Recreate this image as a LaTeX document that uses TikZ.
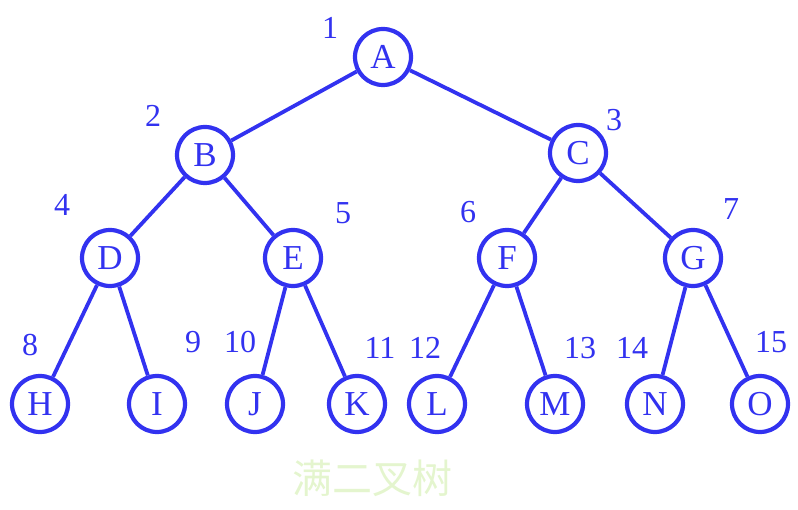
\documentclass[tikz,border=0pt]{standalone}
\usepackage{fontspec}
\setmainfont{Liberation Serif}
\newfontfamily\cjk{Noto Sans CJK SC}
\definecolor{tb}{RGB}{50,50,240}
\definecolor{cap}{RGB}{228,245,206}
\begin{document}
\begin{tikzpicture}[x=1pt,y=-1pt,
  tn/.style={circle,draw=tb,line width=4.2pt,minimum size=56pt,inner sep=0pt,text=tb,font=\fontsize{35}{35}\selectfont},
  num/.style={text=tb,font=\fontsize{32}{32}\selectfont,inner sep=0pt},
  ed/.style={draw=tb,line width=3.8pt}]
\useasboundingbox (0,0) rectangle (798,510);
\node[tn] (A) at (383,57) {A};
\node[tn] (B) at (205,155) {B};
\node[tn] (C) at (578,153) {C};
\node[tn] (D) at (110,258) {D};
\node[tn] (E) at (293,258) {E};
\node[tn] (F) at (507,258) {F};
\node[tn] (G) at (693,258) {G};
\node[tn] (H) at (40,404) {H};
\node[tn] (I) at (157,404) {I};
\node[tn] (J) at (255,404) {J};
\node[tn] (K) at (357,404) {K};
\node[tn] (L) at (437,404) {L};
\node[tn] (M) at (555,404) {M};
\node[tn] (N) at (655,404) {N};
\node[tn] (O) at (760,404) {O};
\foreach \a/\b in {A/B,A/C,B/D,B/E,C/F,C/G,D/H,D/I,E/J,E/K,F/L,F/M,G/N,G/O}
  \draw[ed] (\a) -- (\b);
\node[num] (n1) at (330,28) {1};
\node[num] (n2) at (153,116) {2};
\node[num] (n3) at (614,120) {3};
\node[num] (n4) at (62,205) {4};
\node[num] (n5) at (343,213) {5};
\node[num] (n6) at (468,212) {6};
\node[num] (n7) at (731,209) {7};
\node[num] (n8) at (30,345) {8};
\node[num] (n9) at (193,342) {9};
\node[num] (n10) at (240,342) {10};
\node[num] (n11) at (380,348) {11};
\node[num] (n12) at (425,348) {12};
\node[num] (n13) at (580,348) {13};
\node[num] (n14) at (632,348) {14};
\node[num] (n15) at (771,342) {15};
\node[text=cap,font=\cjk\fontsize{40}{40}\selectfont,inner sep=0pt] (t) at (372,478) {满二叉树};
\end{tikzpicture}
\end{document}
